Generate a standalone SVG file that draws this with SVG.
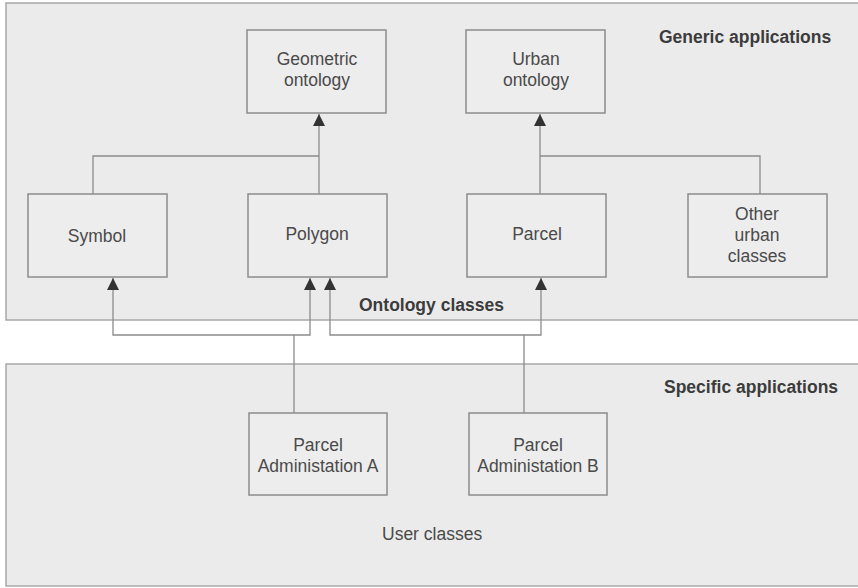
<svg xmlns="http://www.w3.org/2000/svg" width="858" height="588" viewBox="0 0 858 588">
  <defs>
    <style>
      .panel { fill: #ebebeb; stroke: #a8a8a8; stroke-width: 1.5; }
      .box { fill: #ededed; stroke: #8c8c8c; stroke-width: 1.5; }
      .lbl { font-family: "Liberation Sans", Arial, sans-serif; font-size: 17.5px; fill: #4a4a4a; text-anchor: middle; }
      .title { font-family: "Liberation Sans", Arial, sans-serif; font-size: 17.5px; font-weight: bold; fill: #3c3c3c; }
      .user { font-family: "Liberation Sans", Arial, sans-serif; font-size: 17.5px; fill: #4a4a4a; }
      .wire { fill: none; stroke: #8c8c8c; stroke-width: 1.3; }
    </style>
    <!-- filled triangle, tip at the end of the line -->
    <marker id="tri" viewBox="0 0 12 12" refX="12" refY="6" markerWidth="12" markerHeight="12" markerUnits="userSpaceOnUse" orient="auto">
      <path d="M0,0 L12,6 L0,12 Z" fill="#333"/>
    </marker>
  </defs>

  <rect width="858" height="588" fill="#ffffff"/>

  <!-- panels -->
  <g id="generic-panel">
    <rect class="panel" x="6" y="3" width="856" height="317"/>
    <text class="title" x="659" y="43">Generic applications</text>
    <text class="title" x="359" y="311">Ontology classes</text>
  </g>
  <g id="specific-panel">
    <rect class="panel" x="6" y="364" width="856" height="222"/>
    <text class="title" x="664" y="393">Specific applications</text>
    <text class="user" x="382" y="540">User classes</text>
  </g>

  <!-- connectors -->
  <g id="connectors">
    <path class="wire" d="M93,194 V156 H319"/>
    <path class="wire" d="M319,194 V114" marker-end="url(#tri)"/>
    <path class="wire" d="M760,194 V156 H540"/>
    <path class="wire" d="M540,194 V114" marker-end="url(#tri)"/>
    <!-- Parcel Administation A -->
    <path class="wire" d="M294,413 V335 H113 V278" marker-end="url(#tri)"/>
    <path class="wire" d="M294,335 H310 V278" marker-end="url(#tri)"/>
    <!-- Parcel Administation B -->
    <path class="wire" d="M524,413 V335 H330 V278" marker-end="url(#tri)"/>
    <path class="wire" d="M524,335 H541 V278" marker-end="url(#tri)"/>
  </g>

  <!-- nodes -->
  <g id="geometric-ontology">
    <rect class="box" x="247" y="30" width="139" height="83"/>
    <text class="lbl" x="317" y="65">Geometric</text>
    <text class="lbl" x="317" y="86">ontology</text>
  </g>
  <g id="urban-ontology">
    <rect class="box" x="466" y="30" width="139" height="83"/>
    <text class="lbl" x="536" y="65">Urban</text>
    <text class="lbl" x="536" y="86">ontology</text>
  </g>
  <g id="symbol">
    <rect class="box" x="28" y="194" width="139" height="83"/>
    <text class="lbl" x="97" y="242">Symbol</text>
  </g>
  <g id="polygon">
    <rect class="box" x="248" y="194" width="139" height="83"/>
    <text class="lbl" x="317" y="240">Polygon</text>
  </g>
  <g id="parcel">
    <rect class="box" x="467" y="194" width="139" height="83"/>
    <text class="lbl" x="537" y="240">Parcel</text>
  </g>
  <g id="other-urban-classes">
    <rect class="box" x="688" y="194" width="139" height="83"/>
    <text class="lbl" x="757" y="220">Other</text>
    <text class="lbl" x="757" y="241">urban</text>
    <text class="lbl" x="757" y="262">classes</text>
  </g>
  <g id="parcel-admin-a">
    <rect class="box" x="249" y="413" width="138" height="82"/>
    <text class="lbl" x="318" y="451">Parcel</text>
    <text class="lbl" x="318" y="472">Administation A</text>
  </g>
  <g id="parcel-admin-b">
    <rect class="box" x="469" y="413" width="138" height="82"/>
    <text class="lbl" x="538" y="451">Parcel</text>
    <text class="lbl" x="538" y="472">Administation B</text>
  </g>
</svg>
